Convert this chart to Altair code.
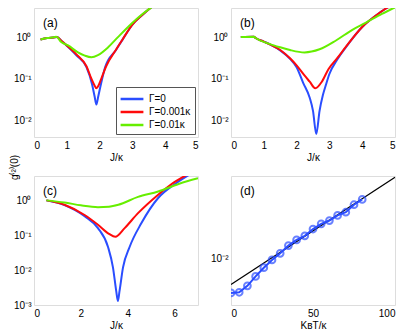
import altair as alt
import pandas as pd

# ---------------- data ----------------
series_names = ["Γ=0", "Γ=0.001κ", "Γ=0.01κ"]
series_colors = ["#2a4dff", "#ff0a0a", "#66ee00"]

# panel (a)
a_J_blue = [0.2, 0.4, 0.6, 0.7, 0.85, 1.0, 1.3, 1.6, 1.77, 1.85, 1.9, 1.96, 2.04, 2.17, 2.5, 2.7, 3.0, 3.3, 3.6]
a_g_blue = [0.88, 0.95, 0.98, 1.0, 0.8, 0.62, 0.36, 0.19, 0.074, 0.037, 0.024, 0.038, 0.074, 0.19, 0.49, 0.87, 2.0, 3.4, 5.4]
a_J_red = [0.2, 0.4, 0.6, 0.7, 0.85, 1.0, 1.3, 1.6, 1.75, 1.85, 1.9, 1.95, 2.05, 2.2, 2.5, 2.7, 3.0, 3.3, 3.6]
a_g_red = [0.88, 0.95, 0.98, 1.0, 0.8, 0.63, 0.38, 0.2, 0.1, 0.068, 0.059, 0.065, 0.1, 0.2, 0.5, 0.88, 2.0, 3.4, 5.4]
a_J_green = [0.2, 0.4, 0.6, 0.68, 0.83, 1.04, 1.34, 1.55, 1.75, 1.95, 2.26, 2.56, 2.97, 3.27, 3.58]
a_g_green = [0.88, 0.95, 0.99, 1.02, 0.76, 0.63, 0.43, 0.36, 0.33, 0.37, 0.57, 1.0, 2.1, 3.4, 5.2]

# panel (b)
b_J_blue = [0.3, 0.7, 0.75, 1.0, 1.2, 1.5, 1.8, 2.0, 2.2, 2.4, 2.5, 2.6, 2.7, 2.8, 2.9, 3.0, 3.25, 3.5, 4.0, 4.5, 4.8]
b_g_blue = [1.0, 1.02, 0.95, 0.78, 0.66, 0.48, 0.3, 0.19, 0.08, 0.035, 0.017, 0.0047, 0.017, 0.04, 0.074, 0.13, 0.3, 0.57, 1.75, 3.7, 5.3]
b_J_red = [0.3, 0.7, 0.75, 1.0, 1.2, 1.5, 1.8, 2.0, 2.24, 2.4, 2.57, 2.77, 2.97, 3.25, 3.5, 4.0, 4.5, 4.8]
b_g_red = [1.0, 1.02, 0.95, 0.78, 0.66, 0.49, 0.31, 0.21, 0.12, 0.085, 0.059, 0.085, 0.17, 0.32, 0.58, 1.75, 3.7, 5.3]
b_J_green = [0.3, 0.7, 0.75, 1.17, 1.5, 1.8, 2.24, 2.7, 3.2, 3.7, 4.1, 4.6, 5.0]
b_g_green = [1.0, 1.02, 0.95, 0.69, 0.57, 0.49, 0.43, 0.51, 0.83, 1.5, 2.2, 3.6, 5.2]

# panel (c)
c_J_blue = [0.53, 1.3, 2.16, 2.73, 3.16, 3.37, 3.51, 3.58, 3.65, 3.8, 4.08, 4.58, 5.3, 6.0, 6.6]
c_g_blue = [1.0, 0.73, 0.35, 0.16, 0.046, 0.012, 0.0025, 0.0013, 0.0025, 0.012, 0.046, 0.22, 1.17, 2.9, 5.3]
c_J_red = [0.53, 1.3, 2.16, 2.73, 3.2, 3.47, 3.87, 4.44, 5.3, 5.86, 6.5]
c_g_red = [1.0, 0.75, 0.38, 0.2, 0.11, 0.09, 0.16, 0.43, 1.46, 2.9, 5.3]
c_J_green = [0.53, 1.3, 2.0, 2.73, 3.2, 3.6, 4.44, 5.3, 6.2, 7.0]
c_g_green = [1.0, 0.87, 0.72, 0.64, 0.66, 0.75, 1.26, 1.8, 3.0, 4.3]

# panel (d)
d_T = [0, 5, 10, 15, 20, 25, 30, 35, 40, 45, 50, 55, 60, 65, 70, 75, 80]
d_g = [0.00507, 0.00513, 0.00582, 0.0070, 0.0083, 0.00967, 0.0110, 0.0128, 0.0143,
       0.0155, 0.0177, 0.0196, 0.0209, 0.0231, 0.0246, 0.0285, 0.0316]
d_fit_T = [0, 100]
d_fit_g = [0.00598, 0.0487]

FONT = "Liberation Sans"
W, H = 164, 129

sup_expr = ("datum.value >= 0.9 ? '10⁰' : datum.value >= 0.09 ? '10⁻¹' : "
            "datum.value >= 0.009 ? '10⁻²' : '10⁻³'")


def long_df(Js, gs):
    rows = []
    for k, (J, g) in enumerate(zip(Js, gs)):
        for j, v in zip(J, g):
            rows.append({"J": j, "g": v, "series": series_names[k], "k": k})
    return pd.DataFrame(rows)


def panel_label(txt):
    return alt.Chart(pd.DataFrame({"t": [txt]})).mark_text(
        align="left", baseline="middle", font=FONT, fontSize=12
    ).encode(x=alt.value(9), y=alt.value(15), text="t:N")


def curve_panel(df, xdom, xticks, ydom, yticks, label, legend=None, ytitle=None):
    yaxis_kwargs = dict(values=yticks, labelExpr=sup_expr, ticks=False, domain=False,
                        grid=False, labelFont=FONT, labelFontSize=10, labelPadding=3)
    if ytitle:
        yaxis_kwargs.update(title=ytitle, titleX=-20, titleY=-9, titleAngle=270,
                            titleAlign="center", titleBaseline="middle",
                            titleFont=FONT, titleFontSize=10, titleFontWeight="normal")
    else:
        yaxis_kwargs.update(title=None)
    lines = alt.Chart(df).mark_line(strokeWidth=2, clip=True, interpolate="monotone").encode(
        x=alt.X("J:Q", scale=alt.Scale(domain=xdom, nice=False),
                axis=alt.Axis(values=xticks, title="J/κ", ticks=False, domain=False, grid=False,
                              labelFont=FONT, labelFontSize=10, labelPadding=3,
                              titleFont=FONT, titleFontSize=10, titleFontWeight="normal",
                              titlePadding=2)),
        y=alt.Y("g:Q", scale=alt.Scale(type="log", domain=ydom, nice=False),
                axis=alt.Axis(**yaxis_kwargs)),
        color=alt.Color("series:N",
                        scale=alt.Scale(domain=series_names, range=series_colors),
                        legend=legend),
        order=alt.Order("k:Q"),
    )
    return alt.layer(lines, panel_label(label)).properties(width=W, height=H)


leg = alt.Legend(orient="none", legendX=82, legendY=79, title=None,
                 symbolType="M-1.7,0H1.7", symbolSize=180, symbolStrokeWidth=2.5,
                 symbolOffset=4, strokeColor="#555", fillColor="white",
                 padding=4, labelFont=FONT, labelFontSize=10, rowPadding=0, labelOffset=9)

pa = curve_panel(long_df([a_J_blue, a_J_red, a_J_green], [a_g_blue, a_g_red, a_g_green]),
                 [0, 5], [0, 1, 2, 3, 4, 5], [0.004, 5], [0.01, 0.1, 1], "(a)", legend=leg)
pb = curve_panel(long_df([b_J_blue, b_J_red, b_J_green], [b_g_blue, b_g_red, b_g_green]),
                 [0, 5], [0, 1, 2, 3, 4, 5], [0.004, 5], [0.01, 0.1, 1], "(b)", legend=None)
pc = curve_panel(long_df([c_J_blue, c_J_red, c_J_green], [c_g_blue, c_g_red, c_g_green]),
                 [0, 7], [0, 2, 4, 6], [0.001, 5], [0.001, 0.01, 0.1, 1], "(c)", legend=None,
                 ytitle="g⁽²⁾(0)")

ddf = pd.DataFrame({"T": d_T, "g": d_g})
fitdf = pd.DataFrame({"T": d_fit_T, "g": d_fit_g})
dx = alt.X("T:Q", scale=alt.Scale(domain=[0, 100], nice=False),
           axis=alt.Axis(values=[0, 50, 100], title="KʙT/κ", ticks=False, domain=False, grid=False,
                         labelFont=FONT, labelFontSize=10, labelPadding=3,
                         titleFont=FONT, titleFontSize=10, titleFontWeight="normal", titlePadding=2))
dy = alt.Y("g:Q", scale=alt.Scale(type="log", domain=[0.004, 0.05], nice=False),
           axis=alt.Axis(values=[0.01], labelExpr=sup_expr, title=None, ticks=False, domain=False,
                         grid=False, labelFont=FONT, labelFontSize=10, labelPadding=3))
fit = alt.Chart(fitdf).mark_line(color="black", strokeWidth=1.2, clip=True).encode(x=dx, y=dy)
dline = alt.Chart(ddf).mark_line(color="#2a4dff", strokeWidth=2, clip=True).encode(x=dx, y=dy)
dpts = alt.Chart(ddf).mark_point(color="#2a4dff", filled=False, size=45, strokeWidth=2,
                                 clip=True).encode(x=dx, y=dy)
pd_ = alt.layer(fit, dline, dpts, panel_label("(d)")).properties(width=W, height=H)

chart = alt.ConcatChart(
    concat=[pa, pb, pc, pd_], columns=2,
    spacing=alt.RowColnumber(row=39, column=33), bounds="flush",
    padding={"left": 0, "top": -1, "right": 0, "bottom": 0},
).resolve_scale(color="independent").resolve_legend(color="independent").configure_view(
    stroke="#666", strokeWidth=1).configure(background="white")

chart.save("out.html", embed_options={"renderer": "svg", "actions": False})
